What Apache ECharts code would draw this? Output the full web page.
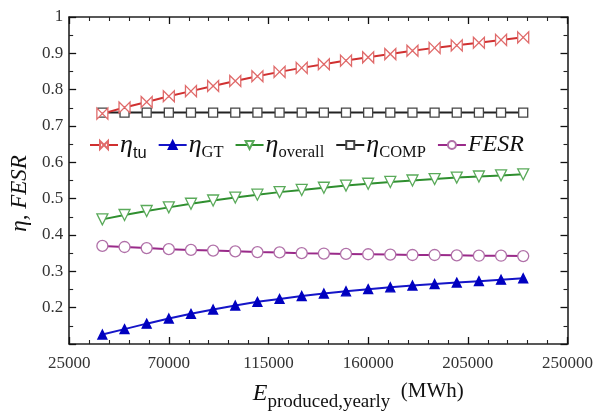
<!DOCTYPE html>
<html>
<head>
<meta charset="utf-8">
<script src="https://cdn.jsdelivr.net/npm/echarts@6/dist/echarts.min.js"></script>
<style>
  html, body { margin: 0; padding: 0; background: #ffffff; }
  #chart { width: 596px; height: 417px; }
</style>
</head>
<body>
<div id="chart"></div>
<script>
// Yearly produced energy (MWh)
const energy = [40000, 50000, 60000, 70000, 80000, 90000, 100000, 110000, 120000, 130000,
                140000, 150000, 160000, 170000, 180000, 190000, 200000, 210000, 220000, 230000];

// Efficiencies and fuel energy saving ratio
const etaTu = [0.734, 0.751, 0.766, 0.782, 0.796, 0.810, 0.824, 0.837, 0.849, 0.860,
               0.870, 0.880, 0.889, 0.898, 0.907, 0.915, 0.922, 0.929, 0.937, 0.944];
const etaGT = [0.126, 0.141, 0.156, 0.170, 0.183, 0.195, 0.206, 0.216, 0.224, 0.232,
               0.239, 0.245, 0.251, 0.256, 0.261, 0.265, 0.269, 0.273, 0.277, 0.281];
const etaOverall = [0.443, 0.455, 0.466, 0.476, 0.486, 0.495, 0.503, 0.511, 0.518, 0.524,
                    0.530, 0.536, 0.541, 0.546, 0.550, 0.554, 0.558, 0.561, 0.564, 0.567];
const etaComp = [0.737, 0.737, 0.737, 0.737, 0.737, 0.737, 0.737, 0.737, 0.737, 0.737,
                 0.737, 0.737, 0.737, 0.737, 0.737, 0.737, 0.737, 0.737, 0.737, 0.737];
const fesr = [0.370, 0.367, 0.364, 0.361, 0.359, 0.357, 0.355, 0.353, 0.352, 0.350,
              0.349, 0.348, 0.347, 0.346, 0.345, 0.345, 0.344, 0.343, 0.343, 0.342];

// Axis ticks
const xTicks = [25000, 70000, 115000, 160000, 205000, 250000];
const yTicks = [0.2, 0.3, 0.4, 0.5, 0.6, 0.7, 0.8, 0.9, 1];

const serif = "'Liberation Serif', 'Times New Roman', serif";
const sans = "'Liberation Sans', Arial, sans-serif";
const pair = ys => energy.map((x, i) => [x, ys[i]]);

const legendText = {
  tu: '{e|η}{sa|tu}',
  GT: '{e|η}{s|GT}',
  overall: '{e|η}{s|overall}',
  COMP: '{e|η}{s|COMP}',
  FESR: '{f|FESR}'
};

const bowtie = 'path://M0,0 L10,10 L10,0 L0,10 Z';

function lineSeries(name, ys, color, symbolColor, symbol, size, fill, extra) {
  return Object.assign({
    name: name,
    type: 'line',
    xAxisIndex: 0,
    yAxisIndex: 0,
    data: pair(ys),
    smooth: false,
    symbol: symbol,
    symbolSize: size,
    showAllSymbol: true,
    lineStyle: { color: color, width: 2 },
    itemStyle: { color: fill, borderColor: symbolColor, borderWidth: 1.3 },
    emphasis: { disabled: true },
    z: 3
  }, extra || {});
}

function tickStyle(splitNumber) {
  return {
    axisTick: { show: true, inside: true, length: 7, lineStyle: { color: '#111', width: 1.3 } },
    minorTick: { show: true, splitNumber: splitNumber, length: 4, lineStyle: { color: '#222', width: 1.1 } },
    splitLine: { show: false },
    minorSplitLine: { show: false },
    axisLine: { show: true, onZero: false, lineStyle: { color: '#222', width: 1.6 } }
  };
}

const chart = echarts.init(document.getElementById('chart'), null, { renderer: 'canvas' });

const xBase = Object.assign({
  type: 'value',
  min: xTicks[0],
  max: xTicks[xTicks.length - 1],
  interval: xTicks[1] - xTicks[0]
}, tickStyle(5));
const yBase = Object.assign({
  type: 'value',
  min: 0.1,
  max: yTicks[yTicks.length - 1],
  interval: 0.1
}, tickStyle(2));

chart.setOption({
  animation: false,
  backgroundColor: '#ffffff',
  textStyle: { fontFamily: serif },
  grid: { left: 68, right: 28, top: 17, bottom: 67 },
  legend: {
    left: 84,
    top: 127,
    itemWidth: 28,
    itemHeight: 10,
    itemGap: 11,
    data: ['tu', 'GT', 'overall', 'COMP', 'FESR'],
    formatter: name => legendText[name],
    textStyle: {
      fontFamily: serif,
      color: '#111',
      padding: [0, 0, 0, -3],
      rich: {
        e: { fontFamily: serif, fontStyle: 'italic', fontSize: 26, color: '#111' },
        s: { fontFamily: serif, fontSize: 16.5, color: '#111', padding: [16, 0, 0, 0] },
        sa: { fontFamily: sans, fontSize: 16.5, color: '#111', padding: [16, 0, 0, 0] },
        f: { fontFamily: serif, fontStyle: 'italic', fontSize: 24, color: '#111' }
      }
    }
  },
  xAxis: [
    Object.assign({}, xBase, {
      position: 'bottom',
      axisLabel: {
        show: true, color: '#333', fontSize: 17, fontFamily: serif, margin: 11,
        formatter: v => String(Math.round(v))
      },
      name: '{e|E}{s|produced,yearly}{u|  (MWh)}',
      nameLocation: 'middle',
      nameGap: 31,
      nameTextStyle: {
        padding: [0, 0, 0, 80],
        rich: {
          e: { fontFamily: serif, fontStyle: 'italic', fontSize: 24, color: '#111' },
          s: { fontFamily: serif, fontSize: 19, color: '#111', padding: [18, 0, 0, 0] },
          u: { fontFamily: serif, fontSize: 21, color: '#111', padding: [0, 0, 4, 0] }
        }
      }
    }),
    Object.assign({}, xBase, {
      position: 'top',
      axisLabel: { show: false }
    })
  ],
  yAxis: [
    Object.assign({}, yBase, {
      position: 'left',
      axisLabel: {
        show: true, color: '#333', fontSize: 17, fontFamily: serif, margin: 6,
        showMinLabel: false,
        formatter: v => (Math.abs(v - 1) < 1e-9 ? '1' : v.toFixed(1))
      },
      name: 'η, FESR',
      nameLocation: 'middle',
      nameRotate: 90,
      nameGap: 37,
      nameTextStyle: {
        fontFamily: serif, fontStyle: 'italic', fontSize: 23, color: '#111',
        padding: [0, 26, 0, 0]
      }
    }),
    Object.assign({}, yBase, {
      position: 'right',
      axisLabel: { show: false }
    })
  ],
  series: [
    lineSeries('COMP', etaComp, '#222222', '#444444', 'rect', 9, '#ffffff', { z: 3 }),
    lineSeries('tu', etaTu, '#d03030', '#e06a6a', bowtie, 11, '#ffffff', { z: 4 }),
    lineSeries('GT', etaGT, '#1515c8', '#0000c0', 'triangle', 9, '#0000c0'),
    lineSeries('overall', etaOverall, '#2f8f2f', '#5aaa5a', 'triangle', 11, '#ffffff', { symbolRotate: 180 }),
    lineSeries('FESR', fesr, '#9a2a8a', '#b070a8', 'circle', 11, '#ffffff')
  ]
});
</script>
</body>
</html>
